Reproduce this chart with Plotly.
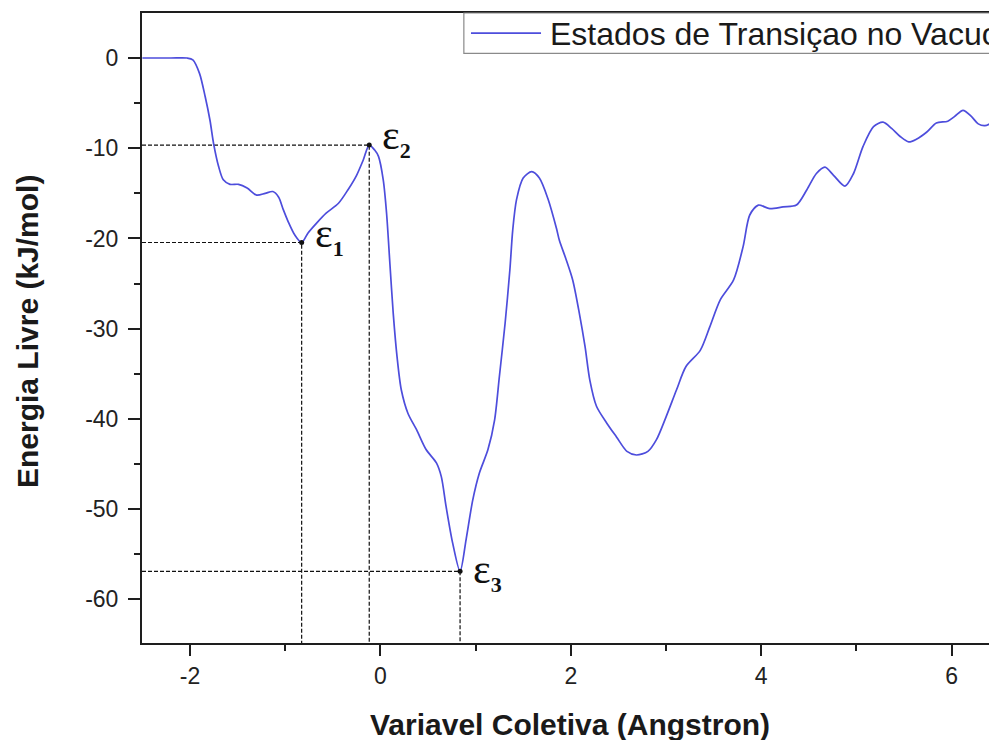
import plotly.graph_objects as go

# Free-energy profile along the collective variable
CV = [-2.50, -2.20, -2.03, -1.97, -1.90, -1.84, -1.79, -1.75, -1.70, -1.65,
      -1.58, -1.49, -1.40, -1.30, -1.21, -1.13, -1.07, -1.02, -0.97, -0.90,
      -0.827, -0.76, -0.67, -0.57, -0.44, -0.34, -0.25, -0.18, -0.117, -0.06,
      -0.02, 0.03, 0.065, 0.10, 0.135, 0.175, 0.22, 0.29, 0.38, 0.48,
      0.59, 0.64, 0.69, 0.76, 0.837, 0.90, 0.97, 1.04, 1.13, 1.20,
      1.25, 1.31, 1.36, 1.39, 1.43, 1.50, 1.59, 1.67, 1.76, 1.85,
      1.88, 1.95, 2.02, 2.09, 2.15, 2.20, 2.27, 2.38, 2.48, 2.59,
      2.69, 2.81, 2.90, 3.00, 3.11, 3.21, 3.36, 3.46, 3.57, 3.71,
      3.81, 3.88, 3.97, 4.09, 4.23, 4.37, 4.48, 4.58, 4.67, 4.76,
      4.88, 4.97, 5.07, 5.18, 5.28, 5.37, 5.46, 5.55, 5.63, 5.74,
      5.84, 5.96, 6.03, 6.12, 6.21, 6.28, 6.35, 6.45]
ENERGY = [0.0, 0.0, 0.0, -0.2, -1.7, -4.3, -6.9, -9.6, -12.0, -13.5,
          -14.0, -14.0, -14.4, -15.2, -15.0, -14.8, -15.4, -16.8, -18.1, -19.6,
          -20.45, -19.4, -18.3, -17.2, -16.1, -14.6, -13.0, -11.3, -9.65, -10.2,
          -10.9, -13.5, -17.2, -22.8, -28.3, -33.1, -36.8, -39.4, -41.2, -43.4,
          -44.9, -46.4, -49.7, -53.8, -56.9, -53.4, -49.0, -46.0, -43.4, -40.1,
          -35.3, -29.4, -23.5, -19.1, -15.7, -13.3, -12.6, -13.3, -15.6, -18.9,
          -20.2, -22.3, -24.6, -28.3, -32.0, -35.7, -38.6, -40.5, -42.0, -43.6,
          -44.0, -43.6, -42.3, -39.8, -36.8, -34.2, -32.4, -29.8, -26.8, -24.6,
          -20.9, -17.4, -16.3, -16.7, -16.5, -16.3, -14.6, -12.8, -12.1, -13.0,
          -14.2, -12.8, -9.8, -7.6, -7.1, -7.8, -8.7, -9.3, -9.0, -8.2,
          -7.2, -7.0, -6.5, -5.8, -6.5, -7.3, -7.5, -7.0]

# Marked stationary points
EPS_X = [-0.827, -0.117, 0.837]
EPS_Y = [-20.45, -9.65, -56.9]
EPS_SUBS = ["1", "2", "3"]

X_TICKS = [-2, 0, 2, 4, 6]
X_TICK_LABELS = ["-2", "0", "2", "4", "6"]
Y_TICKS = [0, -10, -20, -30, -40, -50, -60]
Y_TICK_LABELS = ["0", "-10", "-20", "-30", "-40", "-50", "-60"]

SERIES_NAME = "Estados de Transiçao no Vacuo"
X_TITLE = "Variavel Coletiva (Angstron)"
Y_TITLE = "Energia Livre (kJ/mol)"

X_RANGE = [-2.504, 6.393]
Y_RANGE = [-64.84, 4.99]

LINE_COLOR = "#4d4ddc"
AXIS_COLOR = "#1e1e1e"
SANS = "Liberation Sans, Arial, sans-serif"
SERIF = "Liberation Serif, DejaVu Serif, serif"

fig = go.Figure()

# dashed guides from the axes to each marked point
for ex, ey in zip(EPS_X, EPS_Y):
    fig.add_trace(go.Scatter(
        x=[X_RANGE[0], ex, ex], y=[ey, ey, Y_RANGE[0]],
        mode="lines", line=dict(color="#111111", width=1.2, dash="4px,2px"),
        showlegend=False, hoverinfo="skip"))

fig.add_trace(go.Scatter(
    x=CV, y=ENERGY, mode="lines", name=SERIES_NAME,
    line=dict(color=LINE_COLOR, width=1.7, shape="spline", smoothing=0.8),
    showlegend=False))

fig.add_trace(go.Scatter(
    x=EPS_X, y=EPS_Y, mode="markers",
    marker=dict(color="#111111", size=5),
    showlegend=False, hoverinfo="skip"))

annotations = []
eps_yshift = [7, 8, 0]
for ex, ey, sub, ys in zip(EPS_X, EPS_Y, EPS_SUBS, eps_yshift):
    annotations.append(dict(
        x=ex, y=ey, xref="x", yref="y",
        text=f'ε<sub><span style="font-size:22px"><b>{sub}</b></span></sub>',
        showarrow=False, xanchor="left", yanchor="middle", xshift=11, yshift=ys,
        font=dict(family=SERIF, size=42, color="#111111")))

# axis titles
annotations.append(dict(
    x=0.505, y=-0.1286, xref="paper", yref="paper", text=f"<b>{X_TITLE}</b>",
    showarrow=False, xanchor="center", yanchor="middle",
    font=dict(family=SANS, size=30, color="#1a1a1a")))
annotations.append(dict(
    x=-0.1352, y=0.4944, xref="paper", yref="paper", text=f"<b>{Y_TITLE}</b>",
    showarrow=False, xanchor="center", yanchor="middle", textangle=-90,
    font=dict(family=SANS, size=30, color="#1a1a1a")))

# legend box with line sample
annotations.append(dict(
    x=0.4793, y=0.967, xref="paper", yref="paper", text=SERIES_NAME,
    showarrow=False, xanchor="left", yanchor="middle",
    font=dict(family=SANS, size=32, color="#1a1a1a")))

shapes = [
    dict(type="rect", xref="paper", yref="paper", x0=0.380, x1=1.3, y0=0.936, y1=1.0,
         line=dict(color="#8a8a8a", width=1.2), fillcolor="white", layer="above"),
    dict(type="line", xref="paper", yref="paper", x0=0.3884, x1=0.4711, y0=0.968, y1=0.968,
         line=dict(color=LINE_COLOR, width=1.7), layer="above"),
]

fig.update_layout(
    width=989, height=740,
    margin=dict(l=142, r=0, t=13, b=97),
    paper_bgcolor="white", plot_bgcolor="white",
    showlegend=False,
    annotations=annotations,
    shapes=shapes,
    xaxis=dict(
        range=X_RANGE, tickmode="array", tickvals=X_TICKS, ticktext=X_TICK_LABELS,
        ticks="outside", ticklen=11, tickwidth=2, tickcolor=AXIS_COLOR,
        showline=True, linecolor=AXIS_COLOR, linewidth=2, mirror=True,
        showgrid=False, zeroline=False,
        minor=dict(tickvals=[-1, 1, 3, 5], ticks="outside", ticklen=6,
                   tickwidth=2, tickcolor=AXIS_COLOR, showgrid=False),
        tickfont=dict(family=SANS, size=23, color="#222222")),
    yaxis=dict(
        range=Y_RANGE, tickmode="array", tickvals=Y_TICKS, ticktext=Y_TICK_LABELS,
        ticks="outside", ticklen=12, tickwidth=2, tickcolor=AXIS_COLOR,
        showline=True, linecolor=AXIS_COLOR, linewidth=2, mirror=False,
        showgrid=False, zeroline=False, ticklabelstandoff=5,
        minor=dict(tickvals=[-5, -15, -25, -35, -45, -55, -65], ticks="outside",
                   ticklen=6, tickwidth=2, tickcolor=AXIS_COLOR, showgrid=False),
        tickfont=dict(family=SANS, size=23, color="#222222")),
)

fig.write_html("out.html")
